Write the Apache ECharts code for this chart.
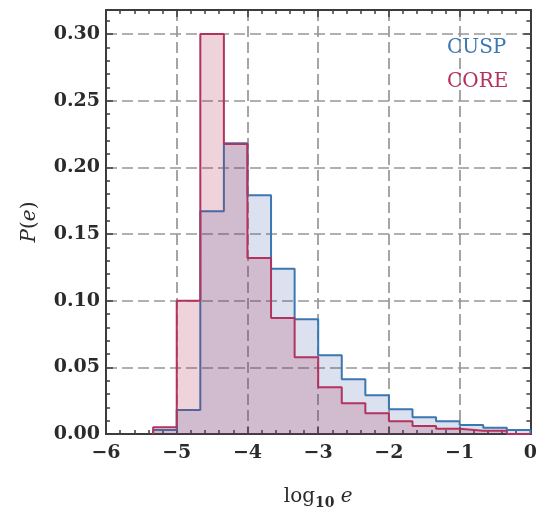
<!DOCTYPE html>
<html>
<head>
<meta charset="utf-8">
<script src="https://cdn.jsdelivr.net/npm/echarts@6/dist/echarts.min.js"></script>
<style>
  html, body { margin: 0; padding: 0; background: #fff; }
  #chart { width: 540px; height: 515px; }
</style>
</head>
<body>
<div id="chart"></div>
<script>
// Histogram bin edges in log10 e (bins one third of a decade wide)
const binEdges = [-16/3, -5, -14/3, -13/3, -4, -11/3, -10/3, -3, -8/3, -7/3, -2, -5/3, -4/3, -1, -2/3, -1/3, 0];

// Probability per bin
const cuspValues = [0.003, 0.018, 0.167, 0.218, 0.179, 0.124, 0.086, 0.059, 0.041, 0.029, 0.0185, 0.0125, 0.0095, 0.0068, 0.0047, 0.003];
const coreValues = [0.005, 0.100, 0.300, 0.2175, 0.132, 0.087, 0.0575, 0.035, 0.023, 0.0155, 0.0095, 0.006, 0.004, 0.0025, 0.0025, 0];

const xTicks = [-6, -5, -4, -3, -2, -1, 0];
const yTicks = [0.00, 0.05, 0.10, 0.15, 0.20, 0.25, 0.30];

const seriesNames = ['CUSP', 'CORE'];
const lineColors = ['#3b77b1', '#b3335f'];
const fillColors = ['rgba(40,80,160,0.24)', 'rgba(170,40,80,0.29)'];

// Turn bins into a closed step outline: rise at the first edge, fall at the last
function stepPoints(edges, values) {
  const pts = [[edges[0], 0]];
  values.forEach((v, i) => pts.push([edges[i], v]));
  pts.push([edges[edges.length - 1], 0]);
  return pts;
}

const serif = 'DejaVu Serif';
const frameColor = '#3c3c3c';
const labelFont = { fontFamily: serif, fontWeight: 'bold', fontSize: 19, color: '#2b2b2b' };
const gridDash = { type: [11, 5], color: '#969696', width: 1.7 };

function minus(v) {
  return v < 0 ? '\u2212' + Math.abs(v) : String(v);
}

const xMin = xTicks[0], xMax = xTicks[xTicks.length - 1];
const yMin = 0, yMax = 0.318;

function xAxisCfg(position, withLabels) {
  return {
    type: 'value', position: position, min: xMin, max: xMax, interval: 1,
    axisLine: { show: true, onZero: false, lineStyle: { color: frameColor, width: 2 } },
    axisTick: { show: true, inside: true, length: 7, lineStyle: { color: frameColor, width: 1.5 } },
    minorTick: { show: true, splitNumber: 5, length: 4, lineStyle: { color: frameColor, width: 1.5 } },
    axisLabel: withLabels ? Object.assign({ margin: 10, formatter: minus }, labelFont) : { show: false },
    splitLine: withLabels ? { show: true, lineStyle: gridDash } : { show: false },
    z: 1
  };
}

function yAxisCfg(position, interval, tickLen, withLabels) {
  return {
    type: 'value', position: position, min: yMin, max: yMax, interval: interval,
    axisLine: { show: true, onZero: false, lineStyle: { color: frameColor, width: 2 } },
    axisTick: { show: true, inside: true, length: tickLen, lineStyle: { color: frameColor, width: 1.5 } },
    axisLabel: withLabels ? Object.assign({
      margin: 6,
      formatter: function (v) {
        const hit = yTicks.find(t => Math.abs(t - v) < 1e-9);
        return hit === undefined ? '' : hit.toFixed(2);
      }
    }, labelFont) : { show: false },
    splitLine: withLabels ? { show: true, lineStyle: gridDash } : { show: false },
    z: 1
  };
}

const xAxes = [xAxisCfg('bottom', true), xAxisCfg('top', false)];
xAxes[0].name = '{a|log}{b|10} {c|e}';
xAxes[0].nameLocation = 'middle';
xAxes[0].nameGap = 50;
xAxes[0].nameTextStyle = {
  fontFamily: serif, fontSize: 20, color: '#2b2b2b',
  rich: {
    a: { fontFamily: serif, fontSize: 20, color: '#2b2b2b', lineHeight: 26 },
    b: { fontFamily: serif, fontWeight: 'bold', fontSize: 14, color: '#2b2b2b', lineHeight: 14, verticalAlign: 'bottom' },
    c: { fontFamily: serif, fontStyle: 'italic', fontSize: 20, color: '#2b2b2b', lineHeight: 26 }
  }
};

const yAxes = [
  yAxisCfg('left', 0.05, 7, true),
  yAxisCfg('left', 0.01, 4, false),
  yAxisCfg('right', 0.05, 7, false),
  yAxisCfg('right', 0.01, 4, false)
];
yAxes[0].name = '{i|P}({i|e})';
yAxes[0].nameLocation = 'middle';
yAxes[0].nameGap = 66;
yAxes[0].nameRotate = 90;
yAxes[0].nameTextStyle = {
  fontFamily: serif, fontSize: 20, color: '#2b2b2b',
  rich: { i: { fontFamily: serif, fontStyle: 'italic', fontSize: 20, color: '#2b2b2b' } }
};

const seriesValues = [cuspValues, coreValues];
const series = seriesNames.map((name, k) => ({
  name: name,
  type: 'line',
  step: 'end',
  xAxisIndex: 0,
  yAxisIndex: 0,
  data: stepPoints(binEdges, seriesValues[k]),
  showSymbol: false,
  symbol: 'none',
  lineStyle: { color: lineColors[k], width: 2 },
  itemStyle: { color: lineColors[k] },
  areaStyle: { color: fillColors[k], origin: 0 },
  z: 2 + k,
  animation: false
}));

const chart = echarts.init(document.getElementById('chart'), null, { renderer: 'canvas' });
chart.setOption({
  animation: false,
  backgroundColor: '#ffffff',
  grid: { left: 106, right: 8, top: 10, bottom: 81, containLabel: false },
  legend: {
    orient: 'vertical',
    left: 436,
    top: 33,
    icon: 'none',
    itemWidth: 1,
    itemHeight: 14,
    itemGap: 14,
    selectedMode: false,
    textStyle: { fontFamily: serif, fontSize: 20, lineHeight: 20 },
    data: seriesNames.map((n, k) => ({ name: n, textStyle: { color: lineColors[k] } }))
  },
  xAxis: xAxes,
  yAxis: yAxes,
  series: series
});
</script>
</body>
</html>
